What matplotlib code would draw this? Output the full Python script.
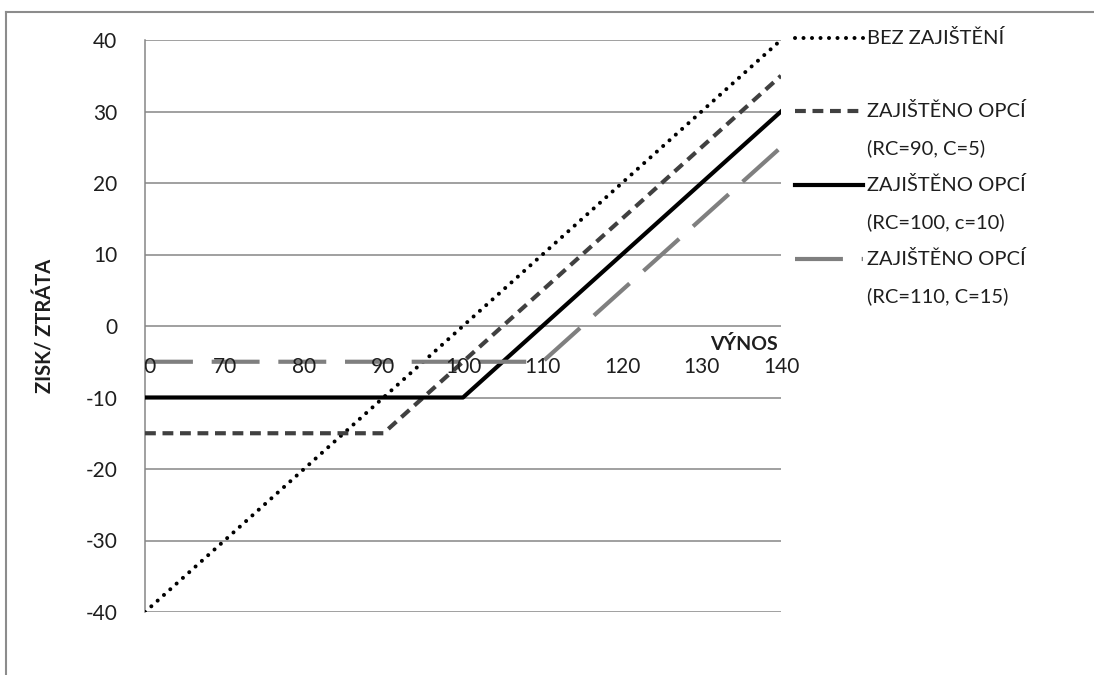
import matplotlib.pyplot as plt
from matplotlib.lines import Line2D
from matplotlib import transforms

plt.rcParams['font.family'] = ['Lato', 'DejaVu Sans']
plt.rcParams['axes.unicode_minus'] = False

# data
vynos = [60, 70, 80, 90, 100, 110, 120, 130, 140]
bez_zajisteni = [-40, -30, -20, -10, 0, 10, 20, 30, 40]
opce_90 = [-15, -15, -15, -15, -5, 5, 15, 25, 35]
opce_100 = [-10, -10, -10, -10, -10, 0, 10, 20, 30]
opce_110 = [-5, -5, -5, -5, -5, -5, 5, 15, 25]

labels = ["BEZ ZAJIŠTĚNÍ",
          "ZAJIŠTĚNO OPCÍ\n(RC=90, C=5)",
          "ZAJIŠTĚNO OPCÍ\n(RC=100, c=10)",
          "ZAJIŠTĚNO OPCÍ\n(RC=110, C=15)"]
y_ticks = [40, 30, 20, 10, 0, -10, -20, -30, -40]

W, H = 1094, 675
fig = plt.figure(figsize=(W / 100, H / 100), dpi=100)
ax = fig.add_axes([145 / W, 1 - 612 / H, (781 - 145) / W, (612 - 40) / H])

grey = '#868686'
txt = '#1e1e1e'
styles = [
    dict(color='black', lw=2.9, dashes=(0.01, 2.1), dash_capstyle='round'),
    dict(color='#404040', lw=3.0, dashes=(2.6, 1.6)),
    dict(color='black', lw=3.0),
    dict(color='#7f7f7f', lw=3.0, dashes=(11.5, 4.5)),
]
series = [bez_zajisteni, opce_90, opce_100, opce_110]
for ys, st in zip(series, styles):
    ax.plot(vynos, ys, zorder=3, **st)

ax.set_xlim(60, 140)
ax.set_ylim(-40, 40)
ax.set_yticks(y_ticks)
ax.set_xticks([])
ax.grid(axis='y', color=grey, lw=1.1, zorder=1)
for s in ['top', 'right', 'bottom']:
    ax.spines[s].set_visible(False)
ax.spines['left'].set_color(grey)
ax.spines['left'].set_linewidth(1.1)
ax.tick_params(axis='y', length=0, pad=20, labelsize=15, labelcolor=txt)

# x labels under the line at zero; the first one is cut by the plot edge
off = transforms.offset_copy(ax.transData, fig=fig, x=0, y=-41, units='dots')
for x in vynos:
    ax.text(x, 0, str(x), transform=off, ha='center', va='center',
            fontsize=15, color=txt, clip_on=(x == vynos[0]), zorder=4)

ax.text(139.6, 0, "VÝNOS", transform=transforms.offset_copy(
    ax.transData, fig=fig, x=0, y=-18, units='dots'),
    ha='right', va='center', fontsize=14, fontweight='bold', color=txt)

fig.text(45 / W, 1 - 326 / H, "ZISK/ ZTRÁTA", rotation=90, ha='center',
         va='center', fontsize=14.5, fontweight='bold', color=txt)

# legend
leg_y = [38, 111, 185, 259]
for lab, st, py in zip(labels, styles, leg_y):
    fy = 1 - py / H
    fig.add_artist(Line2D([795 / W, 863 / W], [fy, fy], transform=fig.transFigure, **st))
    for i, line in enumerate(lab.split('\n')):
        fig.text(867 / W, 1 - (py + i * 37) / H, line, ha='left', va='center',
                 fontsize=14.5, color=txt)

# outer frame (top and left edges visible)
fig.add_artist(Line2D([6 / W, 1], [1 - 12 / H, 1 - 12 / H], transform=fig.transFigure,
                      color='#8c8c8c', lw=1.5))
fig.add_artist(Line2D([6 / W, 6 / W], [0, 1 - 12 / H], transform=fig.transFigure,
                      color='#8c8c8c', lw=1.5))

fig.savefig("out.png", dpi=100)
